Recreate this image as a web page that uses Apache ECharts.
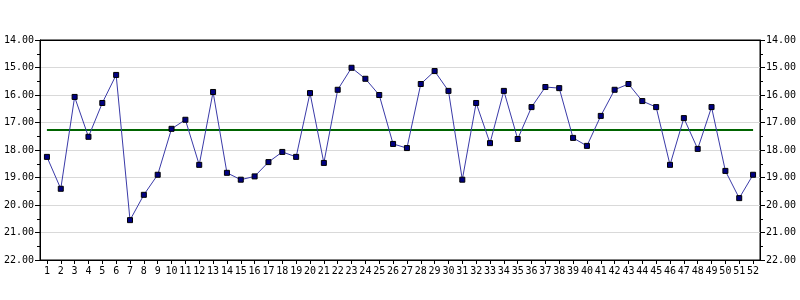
<!DOCTYPE html>
<html>
<head>
<meta charset="utf-8">
<script src="https://cdn.jsdelivr.net/npm/echarts@6/dist/echarts.min.js"></script>
<style>html,body{margin:0;padding:0;background:#fff;}#c{width:800px;height:300px;}</style>
</head>
<body>
<div id="c"></div>
<script>
var categories = [];
for (var i = 1; i <= 52; i++) categories.push(String(i));
var values = [18.25, 19.41, 16.07, 17.52, 16.29, 15.27, 20.55, 19.63, 18.90, 17.23,
  16.90, 18.54, 15.89, 18.83, 19.08, 18.96, 18.44, 18.07, 18.25, 15.93,
  18.47, 15.81, 15.01, 15.41, 16.00, 17.78, 17.93, 15.60, 15.13, 15.85,
  19.08, 16.29, 17.75, 15.85, 17.60, 16.44, 15.71, 15.75, 17.56, 17.85,
  16.76, 15.81, 15.60, 16.22, 16.44, 18.54, 16.84, 17.96, 16.44, 18.76,
  19.75, 18.90];
var centerValue = 17.28;
var yMin = 14, yMax = 22, yStep = 1;

var font = 'DejaVu Sans Mono';
var chart = echarts.init(document.getElementById('c'), null, {renderer: 'canvas'});
function yAxisDef(pos, grid) {
  return {
    type: 'value', position: pos, inverse: true,
    min: yMin, max: yMax, interval: yStep,
    axisLine: {show: true, lineStyle: {color: '#000', width: 1}},
    axisTick: {show: true, length: 5, lineStyle: {color: '#000'}},
    minorTick: {show: true, splitNumber: 2, length: 3, lineStyle: {color: '#000'}},
    axisLabel: {color: '#000', fontFamily: font, fontSize: 10, margin: 6,
      formatter: function (v) { return v.toFixed(2); }},
    splitLine: {show: grid, showMinLine: false, showMaxLine: false, lineStyle: {color: '#d9d9d9', width: 1}}
  };
}
chart.setOption({
  animation: false,
  backgroundColor: '#fff',
  grid: {left: 40, right: 40, top: 40, bottom: 40, show: true, borderColor: '#000', borderWidth: 1, backgroundColor: 'transparent'},
  xAxis: [{
    type: 'category', data: categories, boundaryGap: true,
    axisLine: {show: true, lineStyle: {color: '#000'}},
    axisTick: {show: true, alignWithLabel: true, interval: 0, length: 4, lineStyle: {color: '#000'}},
    axisLabel: {interval: 0, color: '#000', fontFamily: font, fontSize: 10, margin: 6},
    splitLine: {show: false}
  }, {
    type: 'category', data: categories, position: 'top', boundaryGap: true,
    axisLine: {show: true, lineStyle: {color: '#000'}},
    axisTick: {show: false}, axisLabel: {show: false}, splitLine: {show: false}
  }],
  yAxis: [yAxisDef('left', true), yAxisDef('right', false)],
  series: [{
    type: 'line', data: values, yAxisIndex: 0,
    symbol: 'rect', symbolSize: 5,
    lineStyle: {color: '#3a3aa8', width: 1},
    itemStyle: {color: '#000080', borderColor: '#000', borderWidth: 1},
    z: 3,
    markLine: {
      silent: true, symbol: 'none', label: {show: false},
      lineStyle: {color: '#006400', width: 2, type: 'solid'},
      data: [[{coord: [categories[0], centerValue]}, {coord: [categories[categories.length - 1], centerValue]}]],
      z: 2
    }
  }]
});
</script>
</body>
</html>
